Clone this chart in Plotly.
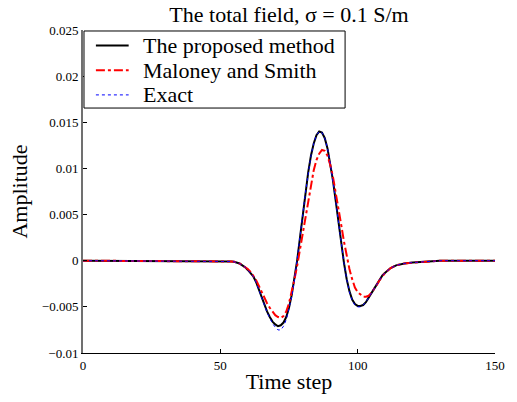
import plotly.graph_objects as go

# ---------------- data ----------------
head_t = [0, 10, 20, 30, 40]
mid_t = list(range(50, 111))
tail_t = [112, 114, 117, 120, 125, 130, 140, 150]
time_step = head_t + mid_t + tail_t

head_v = [0, 0, 0, 0, 0]
tail_v = [-0.0008, -0.0005, -0.0003, -0.0002, -0.0001, 0, 0, 0]

proposed_mid = [
    0, -0.00002, -0.00003, -0.00005, -0.00008, -0.00012, -0.0002, -0.0003, -0.0005, -0.0007,   # 50-59
    -0.0010, -0.0013, -0.0017, -0.0023, -0.0031, -0.0040, -0.0048, -0.0055, -0.0061, -0.0066,  # 60-69
    -0.0069, -0.0071, -0.0070, -0.0067, -0.0061, -0.0051, -0.0037, -0.0020, 0.0001, 0.0025,    # 70-79
    0.0050, 0.0074, 0.0096, 0.0114, 0.0127, 0.0136, 0.0140, 0.0139, 0.0133, 0.0122,            # 80-89
    0.0106, 0.0087, 0.0065, 0.0042, 0.0019, -0.0002, -0.0020, -0.0033, -0.0042, -0.0047,       # 90-99
    -0.0049, -0.0049, -0.0048, -0.0045, -0.0040, -0.0035, -0.0030, -0.0025, -0.0020, -0.0016,  # 100-109
    -0.0013,                                                                                   # 110
]
maloney_mid = [
    0, -0.00002, -0.00003, -0.00005, -0.00008, -0.00012, -0.0002, -0.0003, -0.0005, -0.0007,
    -0.0009, -0.0012, -0.0016, -0.0021, -0.0027, -0.0034, -0.0040, -0.0046, -0.0051, -0.0055,
    -0.0059, -0.0061, -0.0062, -0.0060, -0.0055, -0.0046, -0.0034, -0.0020, -0.0005, 0.0012,
    0.0030, 0.0049, 0.0067, 0.0084, 0.0098, 0.0109, 0.0116, 0.0120, 0.0119, 0.0114,
    0.0104, 0.0091, 0.0075, 0.0057, 0.0039, 0.0021, 0.0005, -0.0009, -0.0020, -0.0029,
    -0.0034, -0.0037, -0.0039, -0.0039, -0.0038, -0.0035, -0.0031, -0.0026, -0.0021, -0.0017,
    -0.0013,
]
exact_mid = [
    0, -0.00002, -0.00003, -0.00005, -0.00008, -0.00012, -0.0002, -0.0003, -0.0005, -0.0007,
    -0.0010, -0.0013, -0.0017, -0.0023, -0.0031, -0.0040, -0.0049, -0.0056, -0.0062, -0.0068,
    -0.0072, -0.0075, -0.0075, -0.0071, -0.0064, -0.0053, -0.0039, -0.0021, 0.0001, 0.0025,
    0.0050, 0.0074, 0.0096, 0.0114, 0.0127, 0.0136, 0.0140, 0.0139, 0.0133, 0.0122,
    0.0106, 0.0087, 0.0065, 0.0042, 0.0019, -0.0002, -0.0020, -0.0034, -0.0043, -0.0048,
    -0.0050, -0.0050, -0.0048, -0.0045, -0.0040, -0.0035, -0.0030, -0.0025, -0.0020, -0.0016,
    -0.0013,
]
proposed = head_v + proposed_mid + tail_v
maloney = head_v + maloney_mid + tail_v
exact = head_v + exact_mid + tail_v

series_names = ["The proposed method", "Maloney and Smith", "Exact"]
x_ticks = [0, 50, 100, 150]
y_ticks = [0.025, 0.02, 0.015, 0.01, 0.005, 0, -0.005, -0.01]

FONT = "Liberation Serif, Times New Roman, serif"

fig = go.Figure()
fig.add_trace(go.Scatter(x=time_step, y=proposed, mode="lines", name=series_names[0],
                         line=dict(color="black", width=2, dash="solid")))
fig.add_trace(go.Scatter(x=time_step, y=maloney, mode="lines", name=series_names[1],
                         line=dict(color="red", width=2, dash="dashdot")))
fig.add_trace(go.Scatter(x=time_step, y=exact, mode="lines", name=series_names[2],
                         line=dict(color="blue", width=1, dash="dot")))

# ---- manual legend (box, line samples, labels) in axis-domain coords ----
L, R, T, B = 83, 498, 30, 357
def px(xp):
    return (xp - L) / (R - L)
def py(yp):
    return (B - yp) / (B - T)

shapes = [dict(type="rect", xref="x domain", yref="y domain",
               x0=px(84), x1=px(347), y0=py(109), y1=py(31),
               line=dict(color="black", width=1), fillcolor="white", layer="above")]
row_y = [45.7, 70.7, 95.7]
styles = [("black", 2, "solid"), ("red", 2, "dashdot"), ("blue", 1, "dot")]
annotations = []
for yy, (c, w, d), nm in zip(row_y, styles, series_names):
    shapes.append(dict(type="line", xref="x domain", yref="y domain",
                       x0=px(96), x1=px(129), y0=py(yy), y1=py(yy),
                       line=dict(color=c, width=w, dash=d), layer="above"))
    annotations.append(dict(xref="x domain", yref="y domain", x=px(141), y=py(yy),
                            xanchor="left", yanchor="middle", showarrow=False,
                            text=nm, font=dict(family=FONT, size=22, color="black")))

fig.update_layout(
    width=517, height=402,
    margin=dict(l=L, r=517 - R, t=T, b=402 - B),
    paper_bgcolor="white", plot_bgcolor="white",
    showlegend=False,
    font=dict(family=FONT, color="black"),
    title=dict(text="The total field, σ = 0.1 S/m", x=0.5, xref="paper",
               y=1 - 14 / 402, yref="container", yanchor="middle", xanchor="center",
               font=dict(family=FONT, size=22, color="black")),
    shapes=shapes,
    annotations=annotations,
)
fig.update_xaxes(range=[0, 150], tickvals=x_ticks, ticks="inside", ticklen=4,
                 tickcolor="black", showline=True, linecolor="black", linewidth=1,
                 showgrid=False, zeroline=False, tickfont=dict(family=FONT, size=13),
                 title=dict(text="Time step", font=dict(family=FONT, size=22), standoff=2))
fig.update_yaxes(range=[-0.01, 0.025], tickvals=y_ticks, ticks="inside", ticklen=4,
                 tickcolor="black", showline=True, linecolor="#707070", linewidth=2,
                 showgrid=False, zeroline=False, tickfont=dict(family=FONT, size=13),
                 title=dict(text="Amplitude", font=dict(family=FONT, size=22), standoff=8))

fig.write_html("out.html")
